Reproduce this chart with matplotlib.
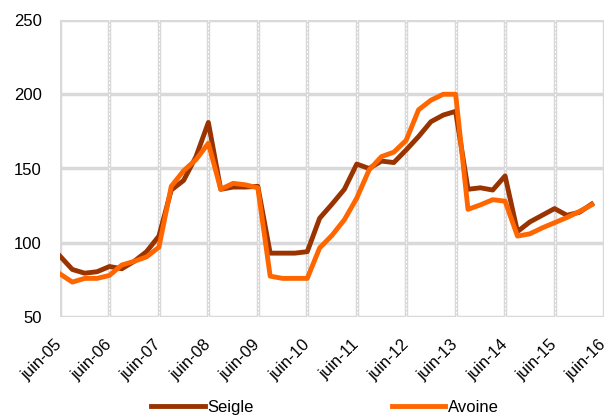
import numpy as np
import matplotlib.pyplot as plt

plt.rcParams['font.family'] = ['Liberation Sans', 'DejaVu Sans']

# quarterly values, juin-05 .. mars-16
months = np.arange(0, 132, 3)
seigle = [91, 82, 79.5, 80.5, 84, 82.5, 87.5, 94, 104.5, 135.5, 142, 158,
          181, 136, 137.5, 137.5, 138, 93, 93, 93, 94, 116.5, 126, 136,
          153, 150, 155, 154, 162.5, 171.5, 181.5, 186, 188.5, 136, 137, 135.5,
          145, 107.5, 114, 118.5, 123, 118.5, 120.5, 126]
avoine = [79, 73.5, 76, 76, 78, 85, 87.5, 90.5, 97, 138, 148.5, 156,
          167, 136, 140, 139, 137, 77.5, 76, 76, 76, 96.5, 105, 115.5,
          130, 149, 158, 161, 169, 189.5, 196, 200, 200, 122.5, 125.5, 129,
          128, 104.5, 106, 110, 113.5, 117, 121, 125.5]
tick_labels = ['juin-%02d' % y for y in range(5, 17)]

fig = plt.figure(figsize=(6.12, 4.19), dpi=100)
ax = fig.add_axes([60 / 612, 1 - 317 / 419, 544 / 612, 297 / 419])

grid_c = '#D9D9D9'
xt = np.arange(0, 133, 12)
for x in xt:
    ax.axvline(x, color=grid_c, lw=2.5, zorder=0)
    if x > 0:
        ax.axvline(x, color='white', lw=0.7, ls=(0, (2, 2)), zorder=0.5)
for y in range(50, 251, 50):
    ax.axhline(y, color=grid_c, lw=2.5, zorder=0)

ax.plot(months, seigle, color='#993300', lw=3.5, label='Seigle', zorder=3)
ax.plot(months, avoine, color='#FF6600', lw=3.5, label='Avoine', zorder=4)

ax.set_xlim(0, 132)
ax.set_ylim(50, 250)
ax.set_yticks(range(50, 251, 50))
ax.set_xticks(xt)
ax.set_xticklabels(tick_labels, rotation=45, ha='right', va='center',
                   rotation_mode='anchor')
ax.tick_params(axis='both', length=0, labelsize=12)
ax.tick_params(axis='y', pad=13)
ax.tick_params(axis='x', pad=18)
for s in ax.spines.values():
    s.set_visible(False)

ax.legend(loc='center', bbox_to_anchor=(0.487, -0.305), ncol=2, frameon=False,
          fontsize=12, handlelength=3.2, columnspacing=8.3, handletextpad=0.15)

fig.savefig('out.png', dpi=100)
